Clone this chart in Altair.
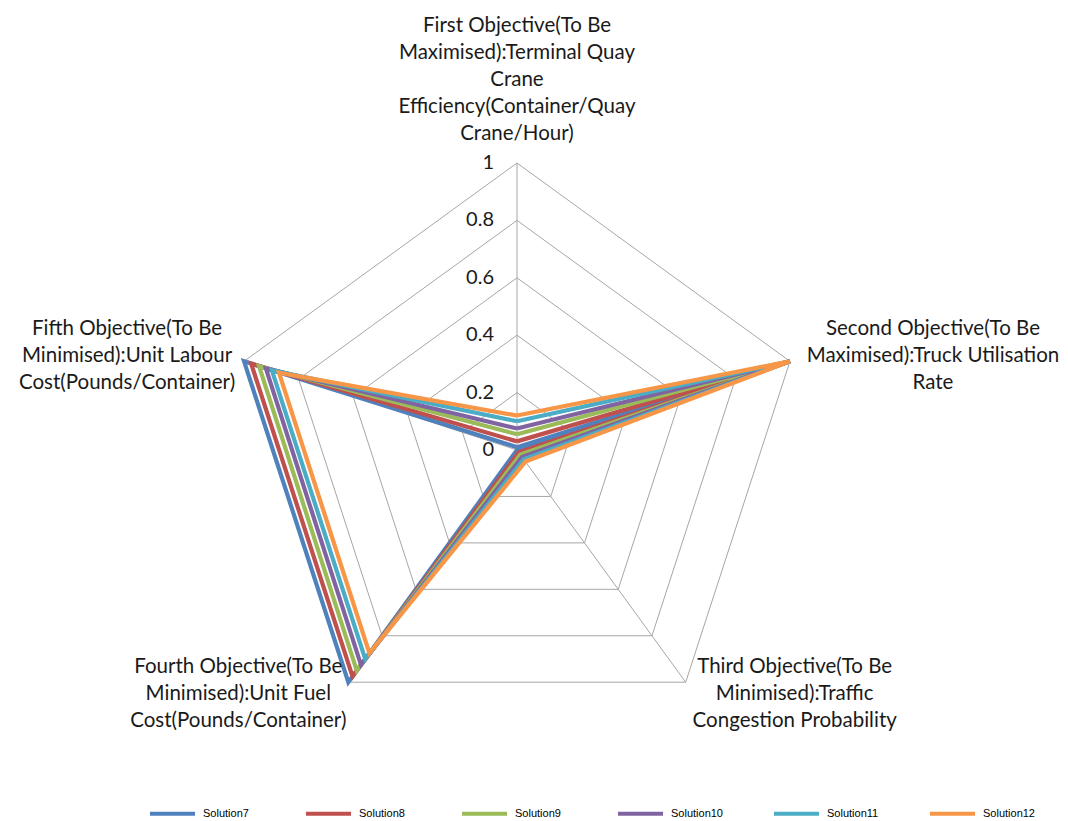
import altair as alt
import pandas as pd

# ---------------- data ----------------
category_lines = [
    ["First Objective(To Be", "Maximised):Terminal Quay", "Crane", "Efficiency(Container/Quay", "Crane/Hour)"],
    ["Second Objective(To Be", "Maximised):Truck Utilisation", "Rate"],
    ["Third Objective(To Be", "Minimised):Traffic", "Congestion Probability"],
    ["Fourth Objective(To Be", "Minimised):Unit Fuel", "Cost(Pounds/Container)"],
    ["Fifth Objective(To Be", "Minimised):Unit Labour", "Cost(Pounds/Container)"],
]
series_names = ["Solution7", "Solution8", "Solution9", "Solution10", "Solution11", "Solution12"]
solution7 = [0.01, 1.0, 0.00, 1.000, 1.000]
solution8 = [0.03, 1.0, 0.01, 0.975, 0.974]
solution9 = [0.055, 1.0, 0.02, 0.950, 0.945]
solution10 = [0.075, 1.0, 0.03, 0.925, 0.920]
solution11 = [0.10, 1.0, 0.04, 0.900, 0.898]
solution12 = [0.12, 1.0, 0.05, 0.875, 0.872]
series_values = [solution7, solution8, solution9, solution10, solution11, solution12]
colors = ["#4F81BD", "#C0504D", "#9BBB59", "#8064A2", "#4BACC6", "#F79646"]
tick_values = [0, 0.2, 0.4, 0.6, 0.8, 1.0]
tick_labels = ["0", "0.2", "0.4", "0.6", "0.8", "1"]

n_axes = len(category_lines)

# ---------------- tables ----------------
rows = []
for name, vals in zip(series_names, series_values):
    for i in range(n_axes + 1):
        rows.append({"series": name, "idx": i, "value": vals[i % n_axes]})
series_df = pd.DataFrame(rows)

ring_rows = []
for lv in tick_values[1:]:
    for i in range(n_axes + 1):
        ring_rows.append({"level": lv, "idx": i, "value": lv})
ring_df = pd.DataFrame(ring_rows)

spoke_df = pd.DataFrame({"idx": list(range(n_axes)), "value": [1.0] * n_axes})
tick_df = pd.DataFrame({"value": tick_values, "label": tick_labels})
cat_df = pd.DataFrame({"idx": list(range(n_axes)), "value": [1.0] * n_axes,
                       "label": category_lines})

# ---------------- geometry (scales) ----------------
W, H = 1068, 821
CX, CY, R = 517, 450, 287
xdom = [-CX / R, (W - CX) / R]
ydom = [-(H - CY) / R, CY / R]
xs = alt.Scale(domain=xdom, nice=False, zero=False)
ys = alt.Scale(domain=ydom, nice=False, zero=False)


def polar_xy(ch):
    return ch.transform_calculate(
        ang=f"datum.idx * 2 * PI / {n_axes}"
    ).transform_calculate(
        px="datum.value * sin(datum.ang)",
        py="datum.value * cos(datum.ang)",
    )

grid_color = "#A6A6A6"
font = "Lato"
text_color = "#1a1a1a"

rings = polar_xy(alt.Chart(ring_df)).mark_line(
    color=grid_color, strokeWidth=1
).encode(
    x=alt.X("px:Q", scale=xs, axis=None),
    y=alt.Y("py:Q", scale=ys, axis=None),
    detail="level:N",
    order=alt.Order("idx:Q"),
)

spokes = polar_xy(alt.Chart(spoke_df)).transform_calculate(
    zx="0", zy="0"
).mark_rule(color=grid_color, strokeWidth=1).encode(
    x=alt.X("zx:Q", scale=xs, axis=None),
    y=alt.Y("zy:Q", scale=ys, axis=None),
    x2="px:Q",
    y2="py:Q",
)

lines = polar_xy(alt.Chart(series_df)).mark_line(
    strokeWidth=4.2, strokeJoin="miter"
).encode(
    x=alt.X("px:Q", scale=xs, axis=None),
    y=alt.Y("py:Q", scale=ys, axis=None),
    color=alt.Color(
        "series:N",
        scale=alt.Scale(domain=series_names, range=colors),
        sort=series_names,
        legend=alt.Legend(
            title=None,
            orient="none",
            legendX=148,
            legendY=789,
            direction="horizontal",
            columns=6,
            symbolType="stroke",
            symbolSize=2025,
            symbolStrokeWidth=4,
            labelFont="Liberation Sans",
            labelFontSize=11,
            labelColor="#000000",
            labelOffset=6,
            gridAlign="all",
            columnPadding=43,
            padding=0,
        ),
    ),
    order=alt.Order("idx:Q"),
)

ticks = alt.Chart(tick_df).transform_calculate(zx="0").mark_text(
    align="right", baseline="middle", dx=-23, fontSize=20, font=font, color=text_color
).encode(
    x=alt.X("zx:Q", scale=xs, axis=None),
    y=alt.Y("value:Q", scale=ys, axis=None),
    text="label:N",
)

# offsets of the first text line centre from each axis vertex
offsets = [(0, -137), (143, -32), (109, -15), (-110, -15), (-117, -32)]
cat_layers = []
for i, (dx, dy) in enumerate(offsets):
    cat_layers.append(
        polar_xy(alt.Chart(cat_df).transform_filter(f"datum.idx == {i}")).mark_text(
            align="center", baseline="middle", dx=dx, dy=dy,
            fontSize=20.5, font=font, color=text_color, lineHeight=27,
        ).encode(
            x=alt.X("px:Q", scale=xs, axis=None),
            y=alt.Y("py:Q", scale=ys, axis=None),
            text="label",
        )
    )

chart = alt.layer(rings, spokes, lines, ticks, *cat_layers).properties(
    width=W, height=H,
    autosize=alt.AutoSizeParams(type="none"),
    padding=0,
    background="white",
).configure_view(stroke=None)

chart.save("out.html", embed_options={"renderer": "svg", "actions": False})
